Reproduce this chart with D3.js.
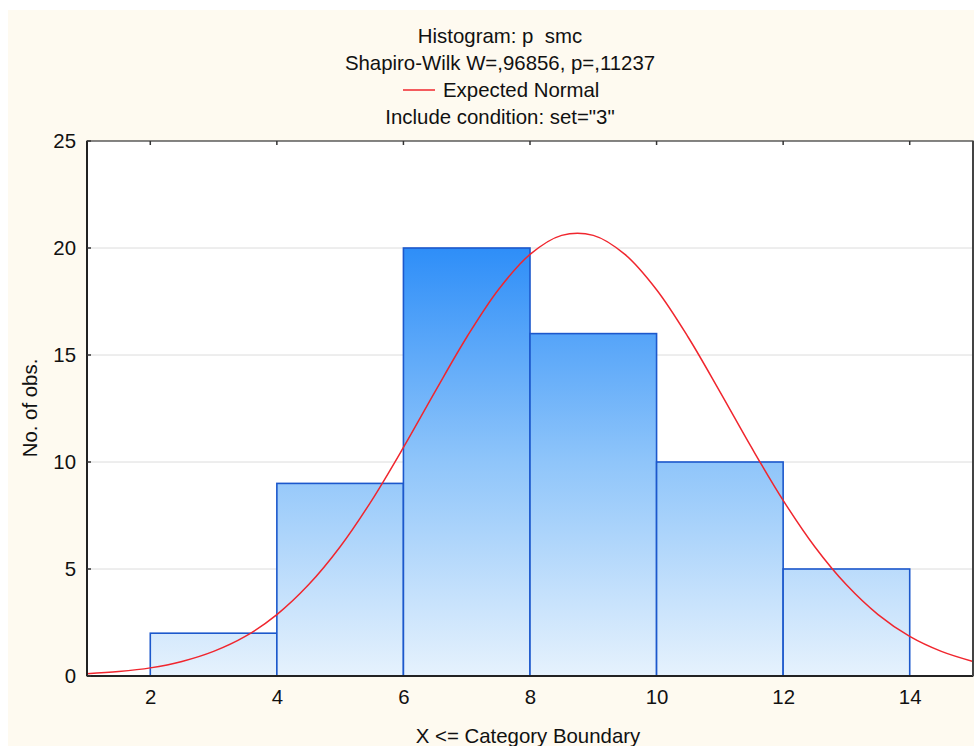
<!DOCTYPE html>
<html>
<head>
<meta charset="utf-8">
<script src="https://cdn.jsdelivr.net/npm/d3@7"></script>
<style>
  body { margin: 0; background: #ffffff; }
  text { font-family: "Liberation Sans", Arial, sans-serif; white-space: pre; }
</style>
</head>
<body>
<div id="chart"></div>
<script>
// bornes des classes et effectifs
const binStart = [2, 4, 6, 8, 10, 12];
const binEnd = [4, 6, 8, 10, 12, 14];
const counts = [2, 9, 20, 16, 10, 5];

// courbe normale attendue
const curveX = [1, 1.5, 2, 2.5, 3, 3.5, 4, 4.5, 5, 5.5, 6, 6.5, 7, 7.5, 8, 8.5, 9, 9.5, 10, 10.5, 11, 11.5, 12, 12.5, 13, 13.5, 14, 14.5, 15];
const curveY = [0.11, 0.21, 0.38, 0.68, 1.15, 1.85, 2.87, 4.26, 6.04, 8.21, 10.68, 13.29, 15.83, 18.05, 19.70, 20.59, 20.59, 19.70, 18.05, 15.83, 13.29, 10.68, 8.21, 6.04, 4.26, 2.87, 1.85, 1.15, 0.68];

const xTicks = [2, 4, 6, 8, 10, 12, 14];
const yTicks = [0, 5, 10, 15, 20, 25];

const titleLines = ["Histogram: p  smc", "Shapiro-Wilk W=,96856, p=,11237", "Expected Normal", "Include condition: set=\"3\""];

const width = 974, height = 746;
const pLeft = 87, pRight = 973, pTop = 141, pBottom = 676;
const fs = "20.4px";

const svg = d3.select("#chart").append("svg")
    .attr("width", width)
    .attr("height", height);

// fond crème
svg.append("rect")
    .attr("x", 8).attr("y", 10)
    .attr("width", width - 8).attr("height", height - 10)
    .attr("fill", "#fefaf0");

const x = d3.scaleLinear().domain([1, 15]).range([pLeft, pRight]);
const y = d3.scaleLinear().domain([0, 25]).range([pBottom, pTop]);

// dégradé des barres
const defs = svg.append("defs");
const grad = defs.append("linearGradient")
    .attr("id", "barGrad")
    .attr("gradientUnits", "userSpaceOnUse")
    .attr("x1", 0).attr("x2", 0)
    .attr("y1", y(20)).attr("y2", y(0));
grad.append("stop").attr("offset", "0%").attr("stop-color", "#2e8ef8");
grad.append("stop").attr("offset", "50%").attr("stop-color", "#8fc5fa");
grad.append("stop").attr("offset", "100%").attr("stop-color", "#e6f2fd");

// zone du graphique
svg.append("rect")
    .attr("x", pLeft).attr("y", pTop)
    .attr("width", pRight - pLeft).attr("height", pBottom - pTop)
    .attr("fill", "#ffffff");

// grille horizontale
svg.append("g")
    .selectAll("line")
    .data(yTicks.filter(d => d > 0 && d < 25))
    .enter().append("line")
    .attr("x1", pLeft).attr("x2", pRight)
    .attr("y1", d => y(d)).attr("y2", d => y(d))
    .attr("stroke", "#dcdcdc")
    .attr("stroke-width", 1);

// barres
svg.append("g")
    .selectAll("rect")
    .data(counts)
    .enter().append("rect")
    .attr("x", (d, i) => x(binStart[i]))
    .attr("y", d => y(d))
    .attr("width", (d, i) => x(binEnd[i]) - x(binStart[i]))
    .attr("height", d => y(0) - y(d))
    .attr("fill", "url(#barGrad)")
    .attr("stroke", "#1c58cc")
    .attr("stroke-width", 1.6);

// courbe normale
const line = d3.line()
    .x((d, i) => x(curveX[i]))
    .y(d => y(d))
    .curve(d3.curveCatmullRom);
svg.append("path")
    .datum(curveY)
    .attr("d", line)
    .attr("fill", "none")
    .attr("stroke", "#f0262e")
    .attr("stroke-width", 1.5);

// cadre
svg.append("rect")
    .attr("x", pLeft).attr("y", pTop)
    .attr("width", pRight - pLeft).attr("height", pBottom - pTop)
    .attr("fill", "none")
    .attr("stroke", "#333")
    .attr("stroke-width", 1.2);
svg.append("line")
    .attr("x1", pLeft).attr("x2", pLeft).attr("y1", pTop).attr("y2", pBottom)
    .attr("stroke", "#222").attr("stroke-width", 2);
svg.append("line")
    .attr("x1", pLeft).attr("x2", pRight).attr("y1", pBottom).attr("y2", pBottom)
    .attr("stroke", "#222").attr("stroke-width", 2);
svg.append("line")
    .attr("x1", pRight).attr("x2", pRight).attr("y1", pTop).attr("y2", pBottom)
    .attr("stroke", "#444").attr("stroke-width", 2);

// axes
const xAxis = d3.axisBottom(x).tickValues(xTicks).tickSize(0).tickPadding(14);
const gx = svg.append("g")
    .attr("transform", "translate(0," + pBottom + ")")
    .call(xAxis);
gx.select(".domain").remove();
gx.selectAll("text").style("font-size", fs).attr("fill", "#111");

const yAxis = d3.axisLeft(y).tickValues(yTicks).tickSize(0).tickPadding(11);
const gy = svg.append("g")
    .attr("transform", "translate(" + pLeft + ",0)")
    .call(yAxis);
gy.select(".domain").remove();
gy.selectAll("text").style("font-size", fs).attr("fill", "#111");

// petites graduations intérieures
svg.append("g").selectAll("line")
    .data(xTicks)
    .enter().append("line")
    .attr("x1", d => x(d)).attr("x2", d => x(d))
    .attr("y1", pTop).attr("y2", pTop + 4)
    .attr("stroke", "#333").attr("stroke-width", 1.5);
svg.append("g").selectAll("line")
    .data(yTicks)
    .enter().append("line")
    .attr("x1", pLeft).attr("x2", pLeft + 4)
    .attr("y1", d => y(d)).attr("y2", d => y(d))
    .attr("stroke", "#333").attr("stroke-width", 1.5);

// titres
const titleG = svg.append("g");
titleLines.forEach((t, i) => {
    titleG.append("text")
        .attr("x", i === 2 ? 443 : 500)
        .attr("y", 43 + i * 27)
        .attr("text-anchor", i === 2 ? "start" : "middle")
        .style("font-size", fs)
        .attr("fill", "#111")
        .text(t);
});
// légende de la courbe
svg.append("line")
    .attr("x1", 403).attr("x2", 435)
    .attr("y1", 90).attr("y2", 90)
    .attr("stroke", "#f0262e").attr("stroke-width", 1.5);

// titres des axes
svg.append("text")
    .attr("x", 528)
    .attr("y", 743)
    .attr("text-anchor", "middle")
    .style("font-size", fs)
    .attr("fill", "#111")
    .text("X <= Category Boundary");

svg.append("text")
    .attr("transform", "translate(37,408) rotate(-90)")
    .attr("text-anchor", "middle")
    .style("font-size", fs)
    .attr("fill", "#111")
    .text("No. of obs.");
</script>
</body>
</html>
